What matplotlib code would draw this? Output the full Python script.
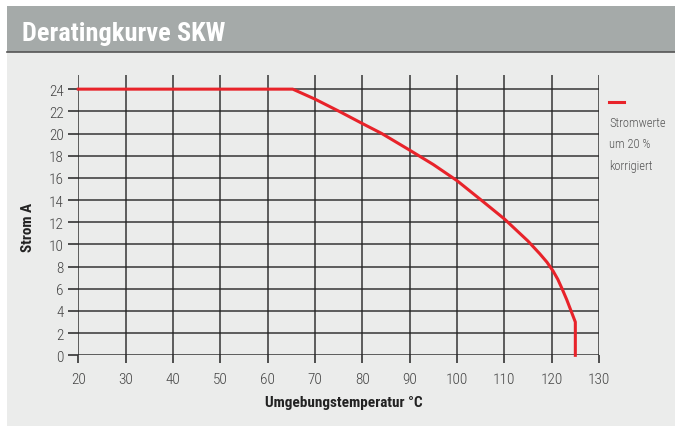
import matplotlib
matplotlib.use("Agg")
import matplotlib.pyplot as plt
from matplotlib.patches import Rectangle
from matplotlib.lines import Line2D

# Data
temperature = [20, 65.3, 70, 75.1, 80, 84.1, 90, 95, 100, 105.1, 110,
               115, 117.5, 119, 120.3, 121.3, 122.2, 123.2, 124.1, 125, 125]
current     = [24, 24, 23.1, 22.0, 20.9, 20.0, 18.5, 17.2, 15.75, 14.0, 12.3,
               10.3, 9.15, 8.4, 7.6, 6.85, 6.0, 5.0, 4.0, 3.0, 0.0]
x_ticks = [20, 30, 40, 50, 60, 70, 80, 90, 100, 110, 120, 130]
y_ticks = [0, 2, 4, 6, 8, 10, 12, 14, 16, 18, 20, 22, 24]
title = "Deratingkurve SKW"
x_label = "Umgebungstemperatur °C"
y_label = "Strom A"
legend_lines = ["Stromwerte", "um 20 %", "korrigiert"]

NARROW = ["Roboto Condensed", "Liberation Sans Narrow", "Roboto", "DejaVu Sans"]
W, H = 675, 427

fig = plt.figure(figsize=(W / 100, H / 100), dpi=100)
fig.patch.set_facecolor("white")

def fx(px):
    return px / W

def fy(py):
    return 1 - py / H

# panel background
fig.patches.append(Rectangle((fx(7), 0), 1 - fx(7), fy(53), transform=fig.transFigure,
                             facecolor="#ebeceb", edgecolor="none", zorder=-2))
# header
fig.patches.append(Rectangle((fx(7), fy(53)), 1 - fx(7), fy(7) - fy(53), transform=fig.transFigure,
                             facecolor="#a5aaa9", edgecolor="none", zorder=-2))
fig.lines.append(Line2D([fx(7), 1], [fy(53), fy(53)], transform=fig.transFigure,
                        color="#555555", linewidth=1.2, zorder=-1))
fig.text(fx(22), fy(40.5), title, color="white", fontsize=19, fontweight="bold",
         family=NARROW, va="baseline", ha="left")

# axes
left, right = 78.3, 599
ymax = 25.3
y0px = 356.3
top_px = y0px - ymax * 11.09
ax = fig.add_axes([fx(left), fy(y0px), fx(right) - fx(left), fy(top_px) - fy(y0px)])
ax.set_zorder(2)
ax.patch.set_alpha(0)
ax.set_xlim(20, 130)
ax.set_ylim(0, ymax)
for s in ax.spines.values():
    s.set_visible(False)
ax.set_xticks(x_ticks)
ax.set_yticks(y_ticks)
ax.grid(True, color="#262626", linewidth=1.2, alpha=0.85)
ax.set_axisbelow(True)
ax.tick_params(axis="x", length=5.5, width=1.2, color="#333333", pad=6.5, labelsize=11,
               labelcolor="#444444", direction="out")
ax.tick_params(axis="y", length=7, width=1.2, color="#333333", pad=3.5, labelsize=11,
               labelcolor="#444444", direction="out")
for lab in ax.get_xticklabels() + ax.get_yticklabels():
    lab.set_family(NARROW)
    lab.set_fontweight("light")

ax.plot(temperature, current, color="#e8232a", linewidth=2.2, solid_joinstyle="round",
        clip_on=False, zorder=3)

fig.text(fx(344), fy(407.5), x_label, fontsize=11, fontweight="bold", family=NARROW,
         color="#222222", ha="center", va="baseline")
fig.text(fx(27.5), fy(227), y_label, fontsize=11, fontweight="bold", family=NARROW,
         color="#222222", ha="center", va="center", rotation=90)

# legend
fig.lines.append(Line2D([fx(609), fx(624)], [fy(103.3), fy(103.3)], transform=fig.transFigure,
                        color="#e8232a", linewidth=2.2))
for i, txt in enumerate(legend_lines):
    fig.text(fx(609), fy(123.5 + i * 21.3), txt, fontsize=9, family=NARROW,
             fontweight="light", color="#555555", va="center", ha="left")

fig.savefig("out.png", dpi=100)
